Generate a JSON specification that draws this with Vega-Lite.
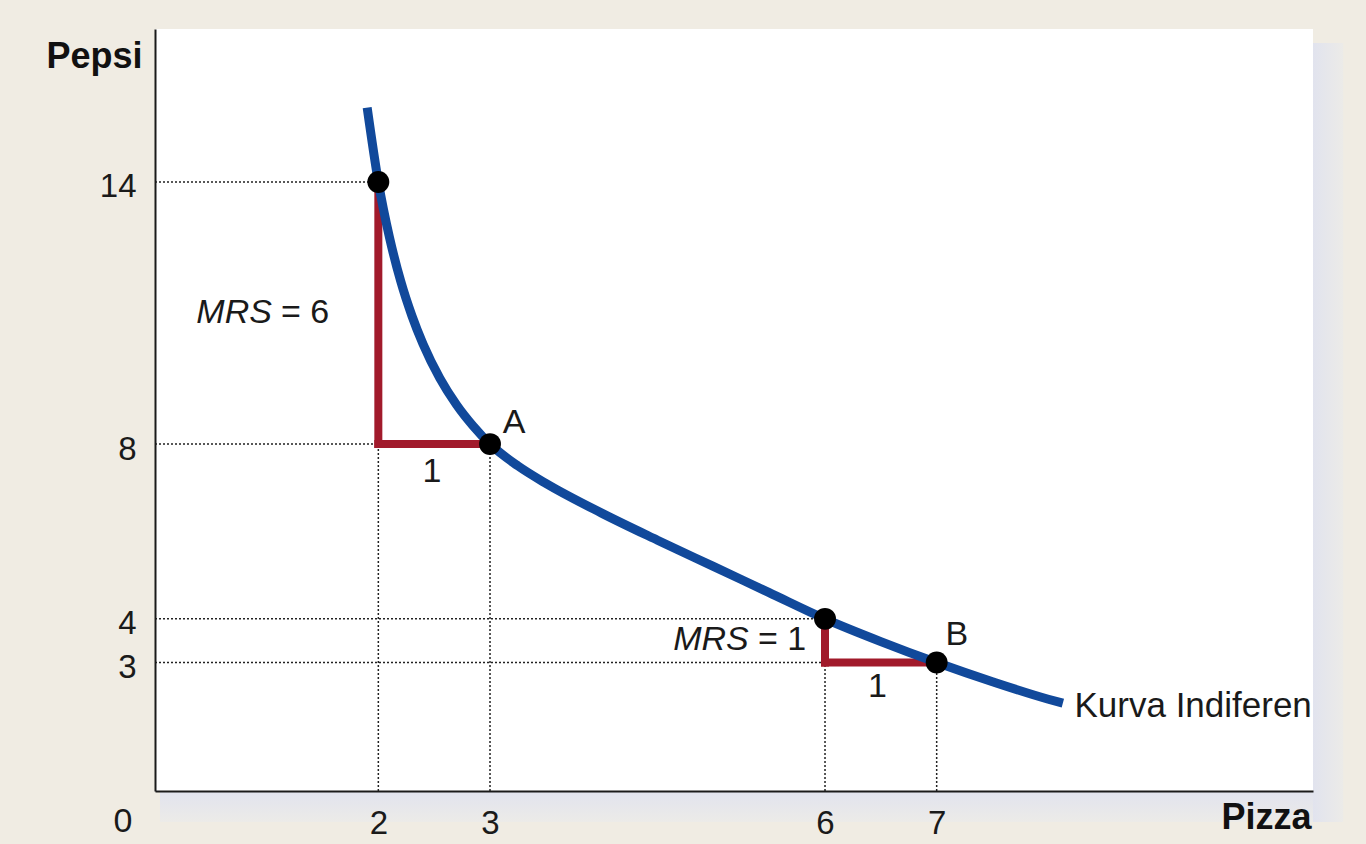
{
  "$schema": "https://vega.github.io/schema/vega-lite/v6.json",
  "autosize": {"type": "none"},
  "width": 1158,
  "height": 762,
  "padding": {"left": 155, "top": 29, "right": 53, "bottom": 53},
  "background": "#f0ece3",
  "config": {
    "view": {"fill": "white", "stroke": null},
    "text": {"font": "Liberation Sans", "fontSize": 34, "color": "#1a1a1a"}
  },
  "datasets": {
    "shadowRight": [{"x": 10.37, "x2": 10.64, "y": -0.65, "y2": 17.18}],
    "shadowBottom": [{"x": 0.045, "x2": 10.37, "y": -0.65, "y2": 0.06}],
    "dotted": [
      {"x": 0, "x2": 2, "y": 14, "y2": 14},
      {"x": 0, "x2": 3, "y": 8, "y2": 8},
      {"x": 0, "x2": 6, "y": 4, "y2": 4},
      {"x": 0, "x2": 7, "y": 3, "y2": 3},
      {"x": 2, "x2": 2, "y": 0.06, "y2": 8},
      {"x": 3, "x2": 3, "y": 0.06, "y2": 8},
      {"x": 6, "x2": 6, "y": 0.06, "y2": 3},
      {"x": 7, "x2": 7, "y": 0.06, "y2": 3}
    ],
    "red": [
      {"x": 2, "x2": 2, "y": 14, "y2": 8},
      {"x": 2, "x2": 3, "y": 8, "y2": 8},
      {"x": 6, "x2": 6, "y": 4, "y2": 3},
      {"x": 6, "x2": 7, "y": 3, "y2": 3}
    ],
    "curve": [
      {"x": 1.9, "y": 15.7},
      {"x": 2.0, "y": 14.0},
      {"x": 2.1, "y": 12.73},
      {"x": 2.2, "y": 11.73},
      {"x": 2.3, "y": 10.94},
      {"x": 2.4, "y": 10.29},
      {"x": 2.55, "y": 9.51},
      {"x": 2.7, "y": 8.9},
      {"x": 2.85, "y": 8.41},
      {"x": 3.0, "y": 8.0},
      {"x": 3.25, "y": 7.5},
      {"x": 3.5, "y": 7.1},
      {"x": 4.0, "y": 6.42},
      {"x": 4.5, "y": 5.8},
      {"x": 5.0, "y": 5.2},
      {"x": 5.5, "y": 4.6},
      {"x": 6.0, "y": 4.0},
      {"x": 6.5, "y": 3.48},
      {"x": 7.0, "y": 3.0},
      {"x": 7.5, "y": 2.56},
      {"x": 8.0, "y": 2.16},
      {"x": 8.13, "y": 2.07}
    ],
    "points": [
      {"x": 2, "y": 14},
      {"x": 3, "y": 8},
      {"x": 6, "y": 4},
      {"x": 7, "y": 3}
    ],
    "labelsCenter": [
      {"x": 3.215, "y": 8.25, "t": "A"},
      {"x": 7.18, "y": 3.4, "t": "B"},
      {"x": 2.48, "y": 7.13, "t": "1"},
      {"x": 6.47, "y": 2.21, "t": "1"},
      {"x": -0.287, "y": -0.88, "t": "0"}
    ],
    "labelsLeft": [
      {"x": 1.128, "y": 10.77, "t": "= 6"},
      {"x": 5.4, "y": 3.29, "t": "= 1"}
    ],
    "labelsCurve": [
      {"x": 8.234, "y": 1.75, "t": "Kurva Indiferen"}
    ],
    "labelsItalic": [
      {"x": 0.37, "y": 10.77, "t": "MRS"},
      {"x": 4.64, "y": 3.29, "t": "MRS"}
    ]
  },
  "encoding": {
    "x": {
      "field": "x",
      "type": "quantitative",
      "scale": {"domain": [0, 10.37], "nice": false, "zero": false},
      "axis": {
        "values": [2, 3, 6, 7],
        "grid": false,
        "ticks": false,
        "zindex": 1,
        "domainColor": "#1a1a1a",
        "domainWidth": 2,
        "labelFont": "Liberation Sans",
        "labelFontSize": 33,
        "labelColor": "#1a1a1a",
        "labelPadding": 16,
        "labelFlush": false,
        "labelOverlap": false,
        "title": "Pizza",
        "titleFont": "Liberation Sans",
        "titleFontSize": 36,
        "titleFontWeight": "bold",
        "titleColor": "#111111",
        "titleAlign": "right",
        "titleBaseline": "alphabetic",
        "titleX": 1156,
        "titleY": 37
      }
    },
    "y": {
      "field": "y",
      "type": "quantitative",
      "scale": {"domain": [0.06, 17.5], "nice": false, "zero": false},
      "axis": {
        "values": [3, 4, 8, 14],
        "grid": false,
        "ticks": false,
        "zindex": 1,
        "domainColor": "#1a1a1a",
        "domainWidth": 2,
        "labelFont": "Liberation Sans",
        "labelFontSize": 33,
        "labelColor": "#1a1a1a",
        "labelPadding": 19,
        "labelBaseline": "middle",
        "labelOffset": 5,
        "labelFlush": false,
        "labelOverlap": false,
        "title": "Pepsi",
        "titleFont": "Liberation Sans",
        "titleFontSize": 36,
        "titleFontWeight": "bold",
        "titleColor": "#111111",
        "titleAngle": 0,
        "titleAlign": "right",
        "titleBaseline": "alphabetic",
        "titleX": -13,
        "titleY": 38
      }
    }
  },
  "layer": [
    {
      "data": {"name": "shadowRight"},
      "mark": {"type": "rect", "color": {"gradient": "linear", "x1": 0, "y1": 0, "x2": 1, "y2": 0, "stops": [{"offset": 0, "color": "#e1e3ee"}, {"offset": 1, "color": "#ecebe8"}]}},
      "encoding": {"x2": {"field": "x2"}, "y2": {"field": "y2"}}
    },
    {
      "data": {"name": "shadowBottom"},
      "mark": {"type": "rect", "color": {"gradient": "linear", "x1": 0, "y1": 0, "x2": 0, "y2": 1, "stops": [{"offset": 0, "color": "#e1e3ee"}, {"offset": 1, "color": "#ecebe8"}]}},
      "encoding": {"x2": {"field": "x2"}, "y2": {"field": "y2"}}
    },
    {
      "data": {"name": "dotted"},
      "mark": {"type": "rule", "color": "#222222", "strokeWidth": 1.5, "strokeDash": [2, 2]},
      "encoding": {"x2": {"field": "x2"}, "y2": {"field": "y2"}}
    },
    {
      "data": {"name": "red"},
      "mark": {"type": "rule", "color": "#a11a2b", "strokeWidth": 8, "strokeCap": "square"},
      "encoding": {"x2": {"field": "x2"}, "y2": {"field": "y2"}}
    },
    {
      "data": {"name": "curve"},
      "mark": {"type": "line", "color": "#11499b", "strokeWidth": 9, "interpolate": "monotone"},
      "encoding": {}
    },
    {
      "data": {"name": "points"},
      "mark": {"type": "point", "shape": "circle", "filled": true, "color": "#000000", "opacity": 1, "size": 480},
      "encoding": {}
    },
    {
      "data": {"name": "labelsCenter"},
      "mark": {"type": "text", "align": "center", "baseline": "alphabetic"},
      "encoding": {"text": {"field": "t"}}
    },
    {
      "data": {"name": "labelsLeft"},
      "mark": {"type": "text", "align": "left", "baseline": "alphabetic"},
      "encoding": {"text": {"field": "t"}}
    },
    {
      "data": {"name": "labelsCurve"},
      "mark": {"type": "text", "align": "left", "baseline": "alphabetic", "fontSize": 35},
      "encoding": {"text": {"field": "t"}}
    },
    {
      "data": {"name": "labelsItalic"},
      "mark": {"type": "text", "align": "left", "baseline": "alphabetic", "fontStyle": "italic"},
      "encoding": {"text": {"field": "t"}}
    }
  ]
}
